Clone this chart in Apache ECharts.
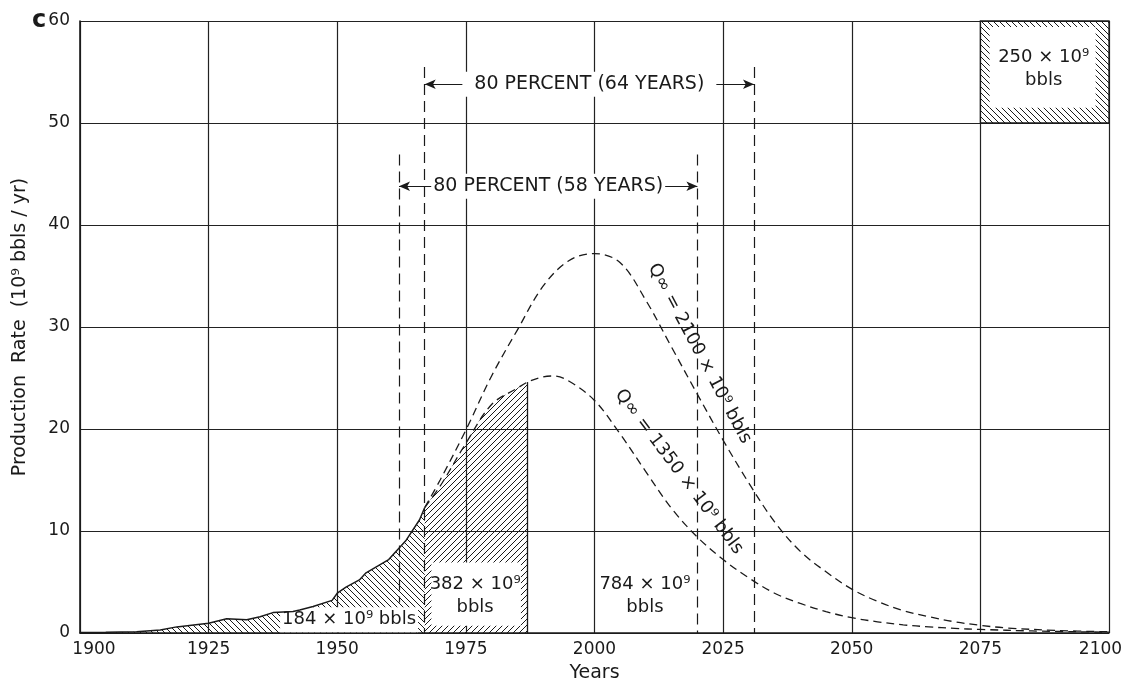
<!DOCTYPE html>
<html><head><meta charset="utf-8">
<script src="https://cdn.jsdelivr.net/npm/echarts@6/dist/echarts.min.js"></script>
<style>html,body{margin:0;padding:0;background:#fff}#c{width:1128px;height:684px}</style>
</head><body><div id="c"></div>
<script>
// ---- data ----
const xTicks = [1900, 1925, 1950, 1975, 2000, 2025, 2050, 2075, 2100];
const yTicks = [0, 10, 20, 30, 40, 50, 60];

const histYears  = [1900,1905,1911,1915.6,1918.8,1925,1928.5,1932.4,1935,1937.5,1941.4,1942.7,1945.3,1949,1950,1951.7,1954.3,1955.6,1958,1960,1963.4,1966,1967];
const histValues = [0.05,0.08,0.13,0.3,0.6,0.95,1.4,1.3,1.6,2.0,2.1,2.25,2.6,3.2,3.9,4.5,5.2,5.9,6.6,7.2,9.1,11.1,12.3];

const q2100Years  = [1967,1970,1975,1980,1985,1990,1995,2000,2005,2010,2015,2020,2025,2030,2035,2040,2045,2050,2055,2060,2065,2070,2075,2080,2090,2100];
const q2100Values = [12.3,15.0,19.9,25.2,29.7,34.0,36.5,37.2,36.3,32.6,28.0,23.4,18.9,14.7,10.9,8.0,6.0,4.3,3.1,2.2,1.6,1.1,0.75,0.5,0.25,0.12];

const q1350Years  = [1967,1970,1975,1980,1985,1987,1990,1992,1995,2000,2005,2010,2015,2020,2025,2030,2035,2040,2045,2050,2055,2060,2065,2070,2075,2085,2100];
const q1350Values = [12.3,14.4,18.6,22.4,24.0,24.6,25.1,25.2,24.7,22.8,19.5,15.8,12.2,9.4,7.2,5.4,3.9,2.9,2.1,1.5,1.1,0.8,0.6,0.45,0.35,0.2,0.08];

const periodBreaks = [1967, 1987];          // 184e9 | 382e9 boundary, end of 382e9
const spanStart = [1962, 1967];             // 80 percent spans
const spanEnd   = [2020, 2031];
const spanTop   = [46.9, 55.5];
const spanStartBottom = [3.0, 0];
const spanArrowY = [43.8, 53.8];
const spanLabels = ['80 PERCENT (58 YEARS)', '80 PERCENT (64 YEARS)'];

const boxYears = [2075, 2100];
const boxValues = [50, 60];

const annoTexts = ['184 × 10⁹ bbls', '382 × 10⁹\nbbls', '784 × 10⁹\nbbls', '250 × 10⁹\nbbls',
                   'Q∞ = 2100 × 10⁹ bbls', 'Q∞ = 1350 × 10⁹ bbls'];
const annoX = [1952.3, 1976.8, 2009.8, 2087.3, 2020.4, 2016.4];
const annoY = [1.3, 3.6, 3.6, 55.3, 27.4, 15.8];
const annoAngle = [0, 0, 0, 0, -62, -53];

// ---- helpers ----
function hatch(dir) {
  const s = 6, c = document.createElement('canvas');
  c.width = s; c.height = s;
  const g = c.getContext('2d');
  g.strokeStyle = '#1a1a1a'; g.lineWidth = 1;
  g.beginPath();
  if (dir > 0) {
    g.moveTo(0, s); g.lineTo(s, 0);
    g.moveTo(-1, 1); g.lineTo(1, -1);
    g.moveTo(s - 1, s + 1); g.lineTo(s + 1, s - 1);
  } else {
    g.moveTo(0, 0); g.lineTo(s, s);
    g.moveTo(-1, s - 1); g.lineTo(1, s + 1);
    g.moveTo(s - 1, -1); g.lineTo(s + 1, 1);
  }
  g.stroke();
  return { image: c, repeat: 'repeat' };
}
const hatchBack = hatch(-1), hatchFwd = hatch(1);
const pairs = (xs, ys) => xs.map((x, i) => [x, ys[i]]);
const FONT = '"DejaVu Sans", "Liberation Sans", Arial, sans-serif';
const INK = '#1a1a1a';

const hist = pairs(histYears, histValues);
const q2100 = pairs(q2100Years, q2100Values);
const q1350 = pairs(q1350Years, q1350Values);
const proj382 = q1350.filter(p => p[0] >= periodBreaks[0] && p[0] <= periodBreaks[1]);
const endVal = q1350Values[q1350Years.indexOf(periodBreaks[1])];

// boxes: [x1,y1,x2,y2,kind] kind 0 = hatched framed, 1 = white
const boxes = [
  [boxYears[0], boxValues[0], boxYears[1], boxValues[1], 0],
  [boxYears[0] + 1.8, boxValues[0] + 1.5, boxYears[1] - 2.6, boxValues[1] - 0.6, 1],
  [periodBreaks[0] + 1.3, 0.7, periodBreaks[1] - 1.3, 6.9, 1]
];

const markLines = [];
for (let i = 0; i < spanStart.length; i++) {
  markLines.push([{ coord: [spanStart[i], spanTop[i]] }, { coord: [spanStart[i], spanStartBottom[i]] }]);
  markLines.push([{ coord: [spanEnd[i], spanTop[i]] }, { coord: [spanEnd[i], 0] }]);
  markLines.push([
    { coord: [spanStart[i], spanArrowY[i]], symbol: 'arrow', lineStyle: { type: 'solid', width: 1.2 } },
    { coord: [spanEnd[i], spanArrowY[i]], symbol: 'arrow' }
  ]);
}
markLines.push([{ coord: [periodBreaks[1], endVal], lineStyle: { type: 'solid', width: 1.3 } }, { coord: [periodBreaks[1], 0] }]);

const dashed = { color: INK, width: 1.3, type: [8, 5] };
const tickFont = { fontFamily: FONT, fontSize: 17, color: INK };

const chart = echarts.init(document.getElementById('c'), null, { renderer: 'canvas' });
chart.setOption({
  backgroundColor: '#fff',
  animation: false,
  title: { text: 'c', left: 27, top: 4, textStyle: { fontFamily: FONT, fontSize: 24, fontWeight: 'bold', color: INK } },
  grid: { left: 80, right: 19, top: 21, bottom: 51, outerBoundsMode: 'none', containLabel: false },
  xAxis: {
    type: 'value', min: xTicks[0], max: xTicks[xTicks.length - 1], interval: xTicks[1] - xTicks[0],
    name: 'Years', nameLocation: 'middle', nameGap: 31,
    nameTextStyle: { fontFamily: FONT, fontSize: 19, color: INK },
    axisLine: { lineStyle: { color: INK, width: 1.6 } },
    axisTick: { show: false },
    axisLabel: Object.assign({}, tickFont, {
      margin: 8,
      formatter: v => v === xTicks[0] ? '{first|' + v + '}' : v === xTicks[xTicks.length - 1] ? '{last|' + v + '}' : String(v),
      rich: {
        first: Object.assign({}, tickFont, { padding: [0, 0, 0, 28] }),
        last: Object.assign({}, tickFont, { padding: [0, 17, 0, 0] })
      }
    }),
    splitLine: { lineStyle: { color: '#222', width: 1.2 } }
  },
  yAxis: {
    type: 'value', min: yTicks[0], max: yTicks[yTicks.length - 1], interval: yTicks[1] - yTicks[0],
    name: 'Production  Rate  (10⁹ bbls / yr)', nameLocation: 'middle', nameGap: 50, nameRotate: 90,
    nameTextStyle: { fontFamily: FONT, fontSize: 19, color: INK },
    axisLine: { show: true, lineStyle: { color: INK, width: 1.6 } },
    axisTick: { show: false },
    axisLabel: Object.assign({}, tickFont, { margin: 10 }),
    splitLine: { lineStyle: { color: '#222', width: 1.2 } }
  },
  series: [
    {
      name: 'history area', type: 'line', data: hist, symbol: 'none', z: 2,
      lineStyle: { width: 0 },
      areaStyle: { color: hatchBack, opacity: 1 },
      markLine: {
        silent: true, z: 3, symbol: ['none', 'none'], symbolSize: [7, 11], label: { show: false },
        lineStyle: { color: INK, width: 1.2, type: [11, 6] },
        data: markLines
      }
    },
    {
      name: 'produced to 1987', type: 'line', data: proj382, symbol: 'none', z: 2,
      smooth: 0.35,
      lineStyle: { width: 0 },
      areaStyle: { color: hatchFwd, opacity: 1 }
    },
    {
      name: 'boxes', type: 'custom', z: 3, data: boxes,
      renderItem(params, api) {
        const p1 = api.coord([api.value(0), api.value(1)]);
        const p2 = api.coord([api.value(2), api.value(3)]);
        const white = api.value(4) === 1;
        return {
          type: 'rect',
          shape: { x: Math.min(p1[0], p2[0]), y: Math.min(p1[1], p2[1]), width: Math.abs(p2[0] - p1[0]), height: Math.abs(p2[1] - p1[1]) },
          style: white ? { fill: '#fff' } : { fill: hatchBack, stroke: INK, lineWidth: 1.3 }
        };
      }
    },
    {
      name: 'annotations', type: 'custom', z: 4,
      data: annoTexts.map((t, i) => [annoX[i], annoY[i]]),
      renderItem(params, api) {
        const i = params.dataIndex;
        const p = api.coord([api.value(0), api.value(1)]);
        return {
          type: 'text', x: p[0], y: p[1], rotation: annoAngle[i] * Math.PI / 180,
          style: {
            text: annoTexts[i], fill: INK, font: '18px ' + FONT, align: 'center', verticalAlign: 'middle',
            lineHeight: 23, backgroundColor: i === 0 ? '#fff' : null, padding: i === 0 ? [1, 2] : 0
          }
        };
      }
    },
    {
      name: 'span labels', type: 'custom', z: 5,
      data: spanLabels.map((t, i) => [(spanStart[i] + spanEnd[i]) / 2, spanArrowY[i]]),
      renderItem(params, api) {
        const i = params.dataIndex;
        const p = api.coord([api.value(0), api.value(1)]);
        return {
          type: 'text', x: p[0], y: p[1],
          style: {
            text: spanLabels[i], fill: INK, font: '19px ' + FONT, align: 'center', verticalAlign: 'middle',
            backgroundColor: '#fff', padding: i === 1 ? [3, 12] : [3, 2]
          }
        };
      }
    },
    {
      name: 'history', type: 'line', data: hist, symbol: 'none', z: 6,
      lineStyle: { color: INK, width: 1.5 }
    },
    {
      name: 'Q 2100', type: 'line', data: q2100, symbol: 'none', z: 6,
      smooth: 0.35, lineStyle: dashed
    },
    {
      name: 'Q 1350', type: 'line', data: q1350, symbol: 'none', z: 6,
      smooth: 0.35, lineStyle: dashed
    }
  ]
});
</script></body></html>
